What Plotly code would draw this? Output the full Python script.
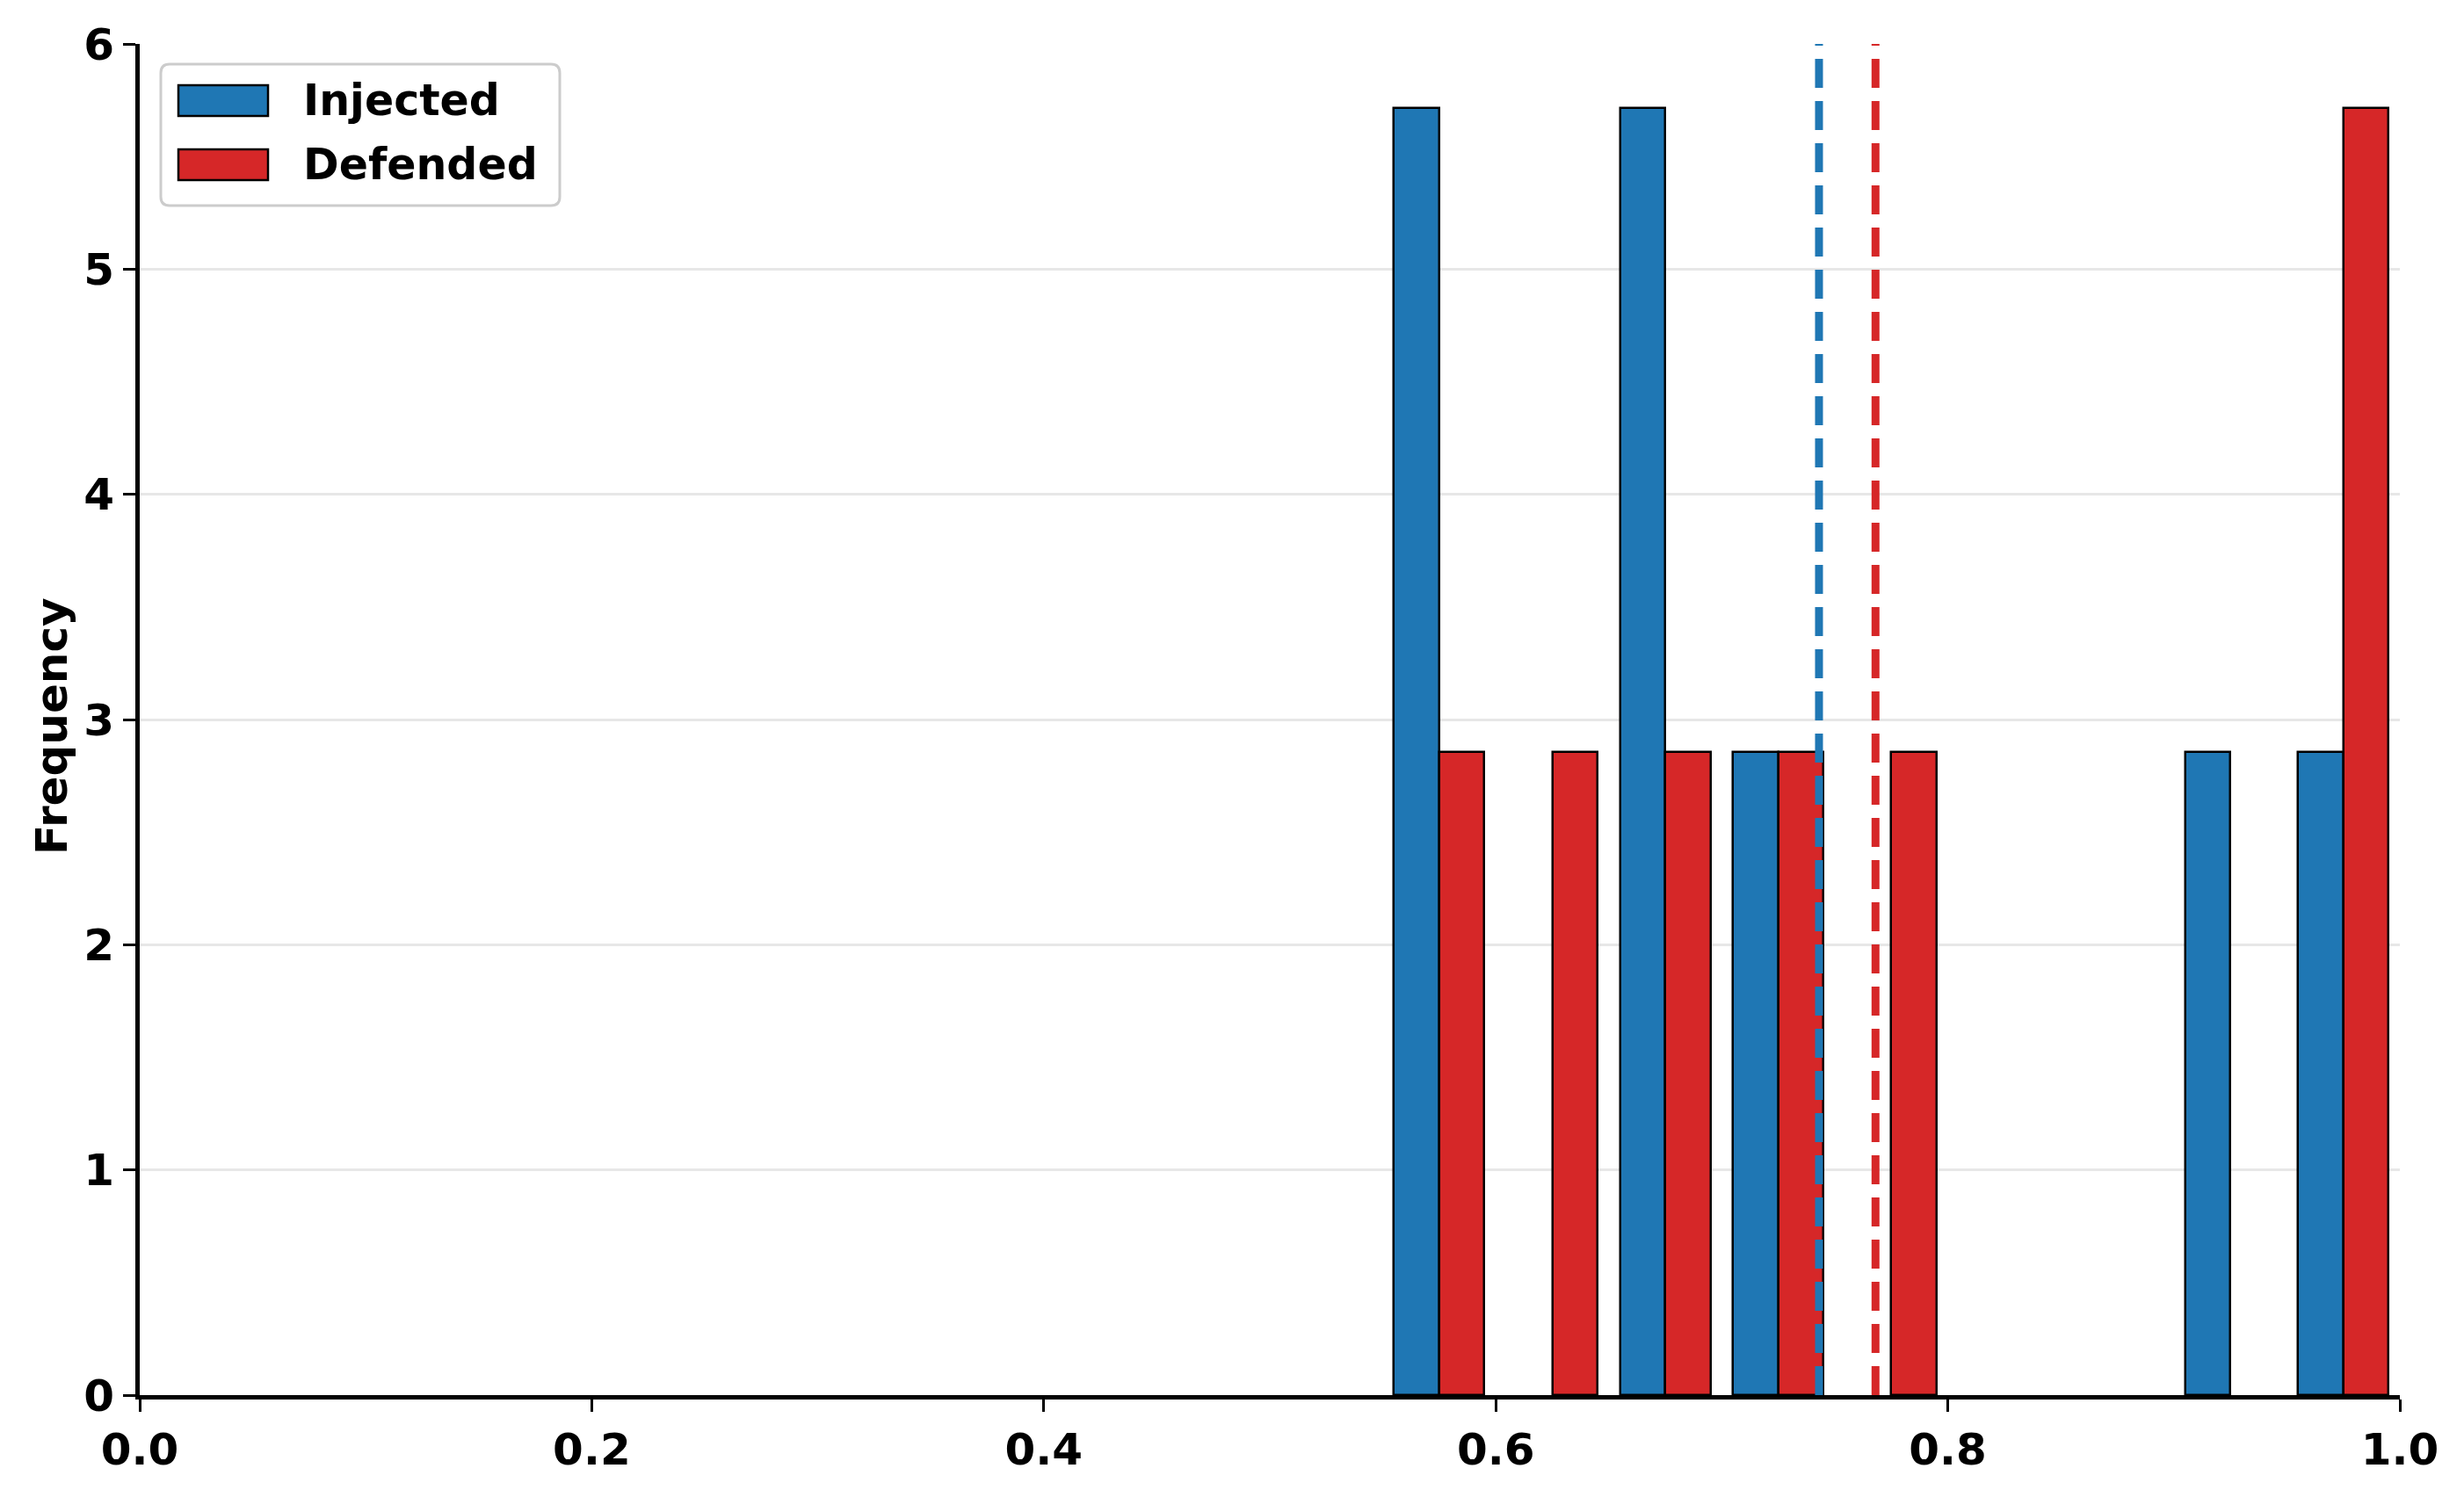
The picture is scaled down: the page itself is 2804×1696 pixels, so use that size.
import plotly.graph_objects as go

# ---------------- data ----------------
bin_edges = [0.55, 0.60, 0.65, 0.70, 0.75, 0.80, 0.85, 0.90, 0.95, 1.00]
injected_freq = [5.714, 0.0, 5.714, 2.857, 0.0, 0.0, 0.0, 2.857, 2.857]
defended_freq = [2.857, 2.857, 2.857, 2.857, 2.857, 0.0, 0.0, 0.0, 5.714]
injected_mean = 0.743
defended_mean = 0.768
series_names = ["Injected", "Defended"]
x_ticks = [0.0, 0.2, 0.4, 0.6, 0.8, 1.0]
y_ticks = [0, 1, 2, 3, 4, 5, 6]
y_title = "Frequency"

# ---------------- styling ----------------
BLUE = "#1f77b4"
RED = "#d62728"
FONT = "DejaVu Sans"
FS = 50

W, H = 2804, 1696
L, R, T, B = 159, 73, 50, 108
PW, PH = W - L - R, H - T - B


def px(xp):
    return (xp - L) / PW


def py(yp):
    return (H - B - yp) / PH


centers = [(a + b) / 2 for a, b in zip(bin_edges[:-1], bin_edges[1:])]
bw = [b - a for a, b in zip(bin_edges[:-1], bin_edges[1:])]
bar_w = [0.4 * w for w in bw]


def nz(vals):
    return [v if v > 0 else None for v in vals]


fig = go.Figure()
fig.add_trace(go.Bar(
    x=centers, y=nz(injected_freq), width=bar_w, offset=[-w for w in bar_w],
    marker=dict(color=BLUE, line=dict(color="black", width=2.5)),
    name=series_names[0], showlegend=False,
))
fig.add_trace(go.Bar(
    x=centers, y=nz(defended_freq), width=bar_w, offset=[0 for w in bar_w],
    marker=dict(color=RED, line=dict(color="black", width=2.5)),
    name=series_names[1], showlegend=False,
))

shapes = []
# mean lines
for m, c in [(injected_mean, BLUE), (defended_mean, RED)]:
    shapes.append(dict(type="line", xref="x", yref="paper", x0=m, x1=m, y0=0, y1=1,
                       line=dict(color=c, width=9, dash="33px,15px"), layer="above"))

# legend box (rounded)
x0, x1, y0, y1, r = 183, 637, 73, 234, 10
pts = [
    ("M", [(x0 + r, y0)]), ("L", [(x1 - r, y0)]), ("Q", [(x1, y0), (x1, y0 + r)]),
    ("L", [(x1, y1 - r)]), ("Q", [(x1, y1), (x1 - r, y1)]), ("L", [(x0 + r, y1)]),
    ("Q", [(x0, y1), (x0, y1 - r)]), ("L", [(x0, y0 + r)]), ("Q", [(x0, y0), (x0 + r, y0)]),
]
path = ""
for cmd, ps in pts:
    path += cmd + " " + " ".join(f"{px(a):.6f},{py(b):.6f}" for a, b in ps) + " "
path += "Z"
shapes.append(dict(type="path", xref="paper", yref="paper", path=path,
                   fillcolor="white", line=dict(color="#cccccc", width=3), layer="above"))

annotations = []
for i, (name, col) in enumerate(zip(series_names, [BLUE, RED])):
    top = 97 + i * 73
    shapes.append(dict(type="rect", xref="paper", yref="paper",
                       x0=px(203), x1=px(305), y0=py(top), y1=py(top + 35),
                       fillcolor=col, line=dict(color="black", width=2.5), layer="above"))
    annotations.append(dict(xref="paper", yref="paper", x=px(343), y=py(top + 17.5),
                            xanchor="left", yanchor="middle", text=name, showarrow=False,
                            font=dict(family=FONT, size=49, color="black", weight="bold")))

annotations.append(dict(xref="paper", yref="paper", x=px(59), y=py(827), xanchor="center",
                        yanchor="middle", text=y_title, textangle=-90, showarrow=False,
                        font=dict(family=FONT, size=FS, color="black", weight="bold")))

fig.update_layout(
    width=W, height=H,
    margin=dict(l=L, r=R, t=T, b=B, pad=0),
    paper_bgcolor="white", plot_bgcolor="white",
    barmode="overlay", bargap=0,
    shapes=shapes, annotations=annotations,
    font=dict(family=FONT, size=FS, color="black", weight="bold"),
    xaxis=dict(range=[0, 1], tickvals=x_ticks, ticktext=[f"{v:.1f}" for v in x_ticks],
               showgrid=False, zeroline=False, showline=True, linecolor="black", linewidth=5,
               ticks="outside", ticklen=14, tickwidth=3, tickcolor="black",
               tickfont=dict(family=FONT, size=FS, color="black", weight="bold"),
               layer="above traces"),
    yaxis=dict(range=[0, 6], tickvals=y_ticks, ticktext=[str(v) for v in y_ticks],
               showgrid=True, gridcolor="rgba(176,176,176,0.3)", gridwidth=2.5,
               zeroline=False, showline=True, linecolor="black", linewidth=5,
               ticks="outside", ticklen=14, tickwidth=3, tickcolor="black",
               tickfont=dict(family=FONT, size=FS, color="black", weight="bold"),
               layer="above traces"),
    showlegend=False,
)

fig.write_html("out.html")
